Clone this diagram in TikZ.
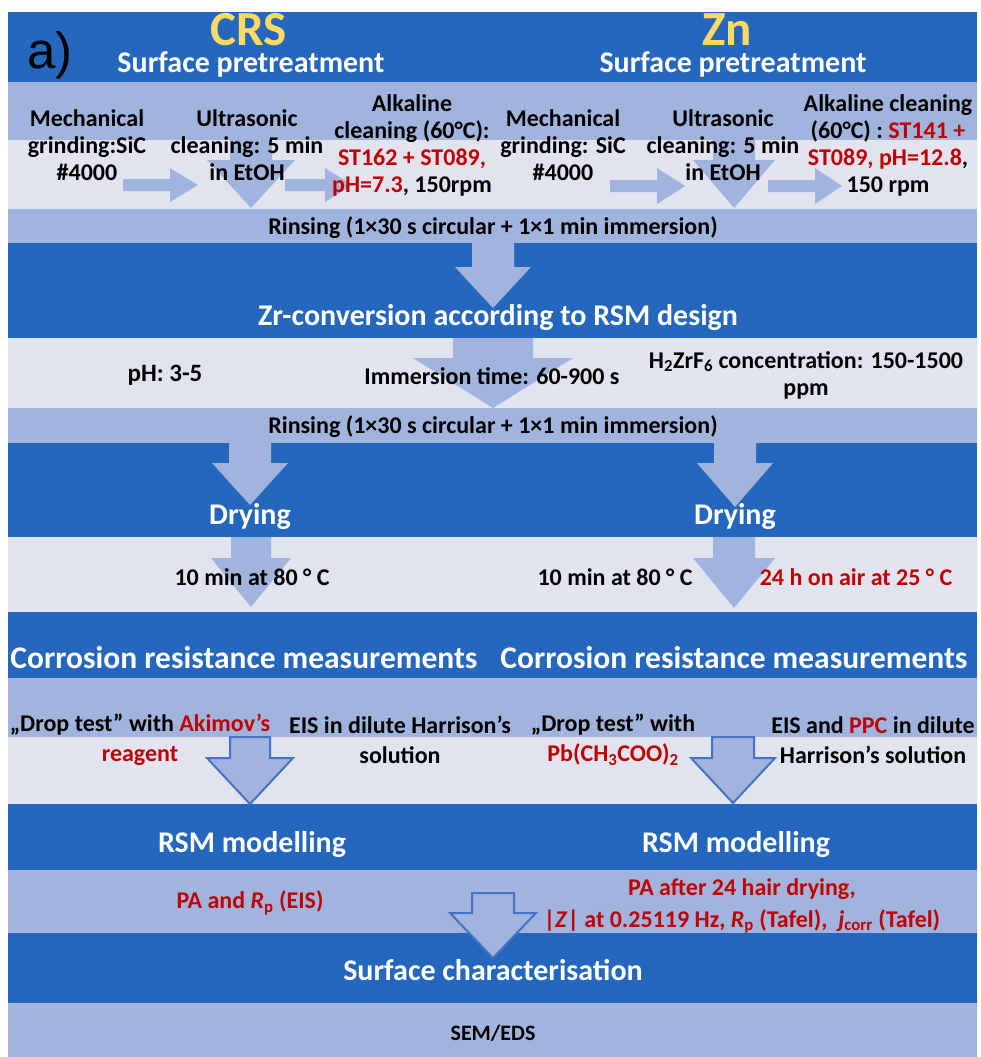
\documentclass[tikz,border=0pt]{standalone}
\usepackage{fontspec}
\setmainfont{Carlito}
\newfontfamily\panelfont{Liberation Sans}
\definecolor{bandDark}{HTML}{2567BD}
\definecolor{bandMid}{HTML}{A1B4DD}
\definecolor{bandLight}{HTML}{E1E3EF}
\definecolor{arrowFill}{HTML}{A1B4DD}
\definecolor{arrowLine}{HTML}{4472C4}
\definecolor{accent}{HTML}{C00000}
\definecolor{metal}{HTML}{FFD966}
\newcommand{\hl}[1]{\textcolor{accent}{#1}}

\tikzset{
  hdr/.style={text=white, font=\bfseries\fontsize{30}{34}\selectfont, inner sep=0pt},
  txt/.style={text=black, font=\bfseries\fontsize{24}{27}\selectfont, align=center, inner sep=0pt},
  metalname/.style={text=metal, font=\bfseries\fontsize{49}{52}\selectfont, inner sep=0pt, text depth=0pt},
  arrowsolid/.style={fill=arrowFill},
  arrowframed/.style={fill=arrowFill, draw=arrowLine, line width=2pt},
  % block arrow pointing down, origin at top centre
  pics/dnarrow/.style n args={5}{code={
    \path[#5] (-#1,0) -- (#1,0) -- (#1,#2) -- (#3,#2) -- (0,#2+#4)
      -- (-#3,#2) -- (-#1,#2) -- cycle;}},
  % block arrow pointing right, origin at left centre
  pics/rtarrow/.style n args={5}{code={
    \path[#5] (0,-#1) -- (0,#1) -- (#2,#1) -- (#2,#3) -- (#2+#4,0)
      -- (#2,-#3) -- (#2,-#1) -- cycle;}}
}

\begin{document}
\begin{tikzpicture}[x=1pt, y=-1pt]
\useasboundingbox (0,0) rectangle (980,1057);

% bands
\foreach \ya/\yb/\col in {12/82/bandDark, 82/140/bandMid, 140/209/bandLight,
    209/243/bandMid, 243/338/bandDark, 338/408/bandLight, 408/443/bandMid,
    443/537/bandDark, 537/612/bandLight, 612/678/bandDark, 678/737/bandMid,
    737/804/bandLight, 804/870/bandDark, 870/933/bandMid, 933/1003/bandDark,
    1003/1057/bandMid}
  \fill[\col] (8,\ya) rectangle (977,\yb);

% arrows
\pic at (251,140) {dnarrow={21}{20}{44}{48}{arrowsolid}};
\pic at (734,140) {dnarrow={21}{20}{41}{48}{arrowsolid}};
\pic at (123,185) {rtarrow={6}{47}{17}{28}{arrowsolid}};
\pic at (285,185) {rtarrow={6}{40}{17}{27}{arrowsolid}};
\pic at (610,186) {rtarrow={6}{47}{18}{28}{arrowsolid}};
\pic at (768,186) {rtarrow={6}{47}{18}{27}{arrowsolid}};
\pic at (493,243) {dnarrow={21}{24}{38}{41}{arrowsolid}};
\pic at (493,338) {dnarrow={40}{20}{80}{50}{arrowsolid}};
\pic at (250,443) {dnarrow={21}{20}{38}{42}{arrowsolid}};
\pic at (735,443) {dnarrow={21}{20}{38}{44}{arrowsolid}};
\pic at (251,537) {dnarrow={20}{21}{40}{49}{arrowsolid}};
\pic at (734,537) {dnarrow={21}{21}{41}{50}{arrowsolid}};
\pic at (250,737) {dnarrow={20}{21}{43}{46}{arrowframed}};
\pic at (733,737) {dnarrow={21}{21}{42}{45}{arrowframed}};
\pic at (493,893) {dnarrow={21}{20}{43}{45}{arrowframed}};

% headings
\node[font=\panelfont\fontsize{51}{54}\selectfont, anchor=base, inner sep=0pt] (panel) at (50,68) {a)};
\node[metalname, anchor=base] (crs) at (249,46) {CRS};
\node[hdr, anchor=base, text height=21pt] (pre1) at (251,73) {Surface pretreatment};
\node[metalname, anchor=base] (zn) at (727,46) {Zn};
\node[hdr, anchor=base, text height=21pt] (pre2) at (733,73) {Surface pretreatment};

% pretreatment steps
\node[txt] (mech1) at (87,145) {Mechanical\\grinding:SiC\\\#4000};
\node[txt] (ultra1) at (247,145) {Ultrasonic\\cleaning: 5 min\\in EtOH};
\node[txt] (alk1) at (412,145) {Alkaline\\cleaning (60°C):\\\hl{ST162 + ST089,}\\\hl{pH=7.3}, 150rpm};
\node[txt] (mech2) at (563,145) {Mechanical\\grinding: SiC\\\#4000};
\node[txt] (ultra2) at (723,145) {Ultrasonic\\cleaning: 5 min\\in EtOH};
\node[txt] (alk2) at (888,145) {Alkaline cleaning\\(60°C) : \hl{ST141 +}\\\hl{ST089, pH=12.8},\\150 rpm};
\node[txt] (rinse1) at (493,228) {Rinsing (1×30 s circular + 1×1 min immersion)};

% conversion
\node[hdr] (zr) at (498,318) {Zr-conversion according to RSM design};
\node[txt, font=\bfseries\fontsize{25}{27}\selectfont] (ph) at (165,375) {pH: 3-5};
\node[txt] (time) at (492,376) {Immersion time: 60-900 s};
\node[txt] (conc) at (806,375) {H\textsubscript{2}ZrF\textsubscript{6} concentration: 150-1500\\ppm};
\node[txt] (rinse2) at (493,427) {Rinsing (1×30 s circular + 1×1 min immersion)};

% drying
\node[hdr] (dry1) at (250,517) {Drying};
\node[hdr] (dry2) at (735,517) {Drying};
\node[txt] (oven1) at (252,577) {10 min at 80 ° C};
\node[txt] (oven2) at (615,577) {10 min at 80 ° C};
\node[txt, text=accent] (air2) at (856,577) {24 h on air at 25 ° C};

% corrosion tests
\node[hdr, font=\bfseries\fontsize{31.5}{34}\selectfont] (corr1) at (244,658) {Corrosion resistance measurements};
\node[hdr, font=\bfseries\fontsize{31.5}{34}\selectfont] (corr2) at (734,658) {Corrosion resistance measurements};
\node[txt, font=\bfseries\fontsize{24}{30}\selectfont] (drop1) at (140,740) {„Drop test” with \hl{Akimov’s}\\\hl{reagent}};
\node[txt, font=\bfseries\fontsize{24}{30}\selectfont] (eis1) at (400,740) {EIS in dilute Harrison’s\\solution};
\node[txt, font=\bfseries\fontsize{24}{30}\selectfont] (drop2) at (613,740) {„Drop test” with\\\hl{Pb(CH\textsubscript{3}COO)\textsubscript{2}}};
\node[txt, font=\bfseries\fontsize{24}{30}\selectfont] (eis2) at (873,740) {EIS and \hl{PPC} in dilute\\Harrison’s solution};

% modelling
\node[hdr] (rsm1) at (252,845) {RSM modelling};
\node[hdr] (rsm2) at (736,845) {RSM modelling};
\node[txt, text=accent] (resp1) at (250,903) {PA and \textit{R}\textsubscript{p} (EIS)};
\node[txt, text=accent, font=\bfseries\fontsize{24}{32}\selectfont] (resp2) at (742,906)
  {PA after 24 hair drying,\\|\textit{Z}| at 0.25119 Hz, \textit{R}\textsubscript{p} (Tafel), \ \textit{j}\textsubscript{corr} (Tafel)};

% surface
\node[hdr] (surf) at (493,970) {Surface characterisation};
\node[txt, font=\bfseries\fontsize{22}{26}\selectfont] (sem) at (493,1033) {SEM/EDS};

\end{tikzpicture}
\end{document}
